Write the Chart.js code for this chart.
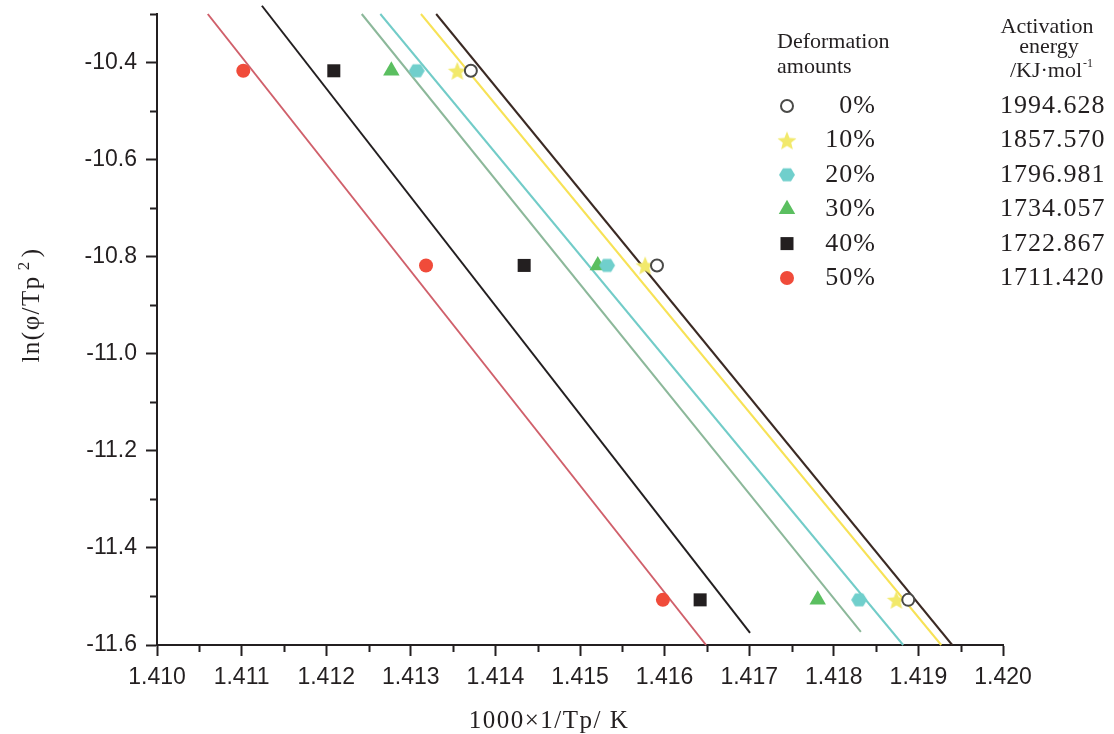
<!DOCTYPE html>
<html>
<head>
<meta charset="utf-8">
<title>Kissinger plot - activation energy</title>
<script src="https://cdn.jsdelivr.net/npm/chart.js@4.4.1/dist/chart.umd.min.js"></script>
<style>
  html, body { margin: 0; padding: 0; background: #fff; }
  #wrap { position: relative; width: 1114px; height: 734px; }
</style>
</head>
<body>
<div id="wrap"><canvas id="chart" width="1114" height="734"></canvas></div>
<script>
// ===== data =====
const xTicks = [1.410, 1.411, 1.412, 1.413, 1.414, 1.415, 1.416, 1.417, 1.418, 1.419, 1.420];
const yTicks = [-11.6, -11.4, -11.2, -11.0, -10.8, -10.6, -10.4];

const deformation = ['0%', '10%', '20%', '30%', '40%', '50%'];
const activationEnergy = ['1994.628', '1857.570', '1796.981', '1734.057', '1722.867', '1711.420'];

// ln(phi/Tp^2) of the three heating rates
const lnRate = [-10.417, -10.818, -11.507];

// 1000/Tp of each sample at those rates
const invTp0 = [1.41371, 1.41591, 1.41888];
const invTp10 = [1.41355, 1.41577, 1.41874];
const invTp20 = [1.41307, 1.41532, 1.41830];
const invTp30 = [1.41277, 1.41521, 1.41781];
const invTp40 = [1.41209, 1.41434, 1.41642];
const invTp50 = [1.41102, 1.41318, 1.41598];

// fitted lines, start and end points
const fit0X = [1.41330, 1.41940],  fit0Y = [-10.300, -11.600];
const fit10X = [1.41312, 1.41927], fit10Y = [-10.300, -11.600];
const fit20X = [1.41264, 1.41882], fit20Y = [-10.300, -11.600];
const fit30X = [1.41242, 1.41832], fit30Y = [-10.300, -11.573];
const fit40X = [1.41124, 1.41701], fit40Y = [-10.283, -11.575];
const fit50X = [1.41060, 1.41649], fit50Y = [-10.300, -11.600];

// ===== helpers =====
const ink = '#231f20';
const serif = "'Liberation Serif', 'Times New Roman', serif";
const sans = "'Liberation Sans', Arial, sans-serif";

// filled five point star used as a point style
const makeStar = (color) => {
    const c = document.createElement('canvas');
    c.width = 22; c.height = 22;
    const g = c.getContext('2d');
    g.fillStyle = color;
    g.beginPath();
    for (let i = 0; i < 10; i++) {
        const r = i % 2 === 0 ? 10 : 4.4;
        const a = -Math.PI / 2 + i * Math.PI / 5;
        g.lineTo(11 + r * Math.cos(a), 12 + r * Math.sin(a));
    }
    g.closePath();
    g.fill();
    return c;
};

// filled hexagon used as a point style
const makeHex = (color) => {
    const c = document.createElement('canvas');
    c.width = 18; c.height = 18;
    const g = c.getContext('2d');
    g.fillStyle = color;
    g.beginPath();
    for (let i = 0; i < 6; i++) {
        const a = i * Math.PI / 3;
        g.lineTo(9 + 8 * Math.cos(a), 9 + 7.6 * Math.sin(a));
    }
    g.closePath();
    g.fill();
    return c;
};

const pts = (xs, ys) => xs.map((v, i) => ({ x: v, y: ys[i] }));

const markerStyles = [
    { pointStyle: 'circle', radius: 6, backgroundColor: '#ffffff', borderColor: '#4a4a48', borderWidth: 2 },
    { pointStyle: makeStar('#f2e96b'), radius: 10, backgroundColor: '#f2e96b', borderColor: '#f2e96b', borderWidth: 0 },
    { pointStyle: makeHex('#70cfcc'), radius: 8, backgroundColor: '#70cfcc', borderColor: '#70cfcc', borderWidth: 0 },
    { pointStyle: 'triangle', radius: 9.5, backgroundColor: '#5bbf60', borderColor: '#5bbf60', borderWidth: 0 },
    { pointStyle: 'rect', radius: 9.2, backgroundColor: ink, borderColor: ink, borderWidth: 0 },
    { pointStyle: 'circle', radius: 7, backgroundColor: '#f04b3a', borderColor: '#f04b3a', borderWidth: 0 }
];
const lineColors = ['#3b2a24', '#f7e256', '#72ccc8', '#8cb89a', ink, '#d0606b'];

const invTp = [invTp0, invTp10, invTp20, invTp30, invTp40, invTp50];
const fits = [[fit0X, fit0Y], [fit10X, fit10Y], [fit20X, fit20Y], [fit30X, fit30Y], [fit40X, fit40Y], [fit50X, fit50Y]];

const datasets = [];
invTp.forEach((xs, i) => {
    const m = markerStyles[i];
    datasets.push({
        label: deformation[i],
        data: pts(xs, lnRate),
        showLine: false,
        order: 0,
        clip: false,
        pointStyle: m.pointStyle,
        pointRadius: m.radius,
        pointBackgroundColor: m.backgroundColor,
        pointBorderColor: m.borderColor,
        pointBorderWidth: m.borderWidth
    });
});
fits.forEach(([fx, fy], i) => {
    datasets.push({
        label: deformation[i] + ' fit',
        data: pts(fx, fy),
        showLine: true,
        order: 1,
        clip: false,
        borderColor: lineColors[i],
        borderWidth: 2,
        pointRadius: 0
    });
});

const xMinor = xTicks.slice(0, -1).map((v, i) => (v + xTicks[i + 1]) / 2);
const yMinor = yTicks.slice(0, -1).map((v, i) => (v + yTicks[i + 1]) / 2).concat([-10.3]);

// minor ticks, axis titles and the two-column legend
const overlay = {
    id: 'overlay',
    afterDraw(chart) {
        const { ctx, scales: { x, y } } = chart;
        ctx.save();
        ctx.strokeStyle = ink;
        ctx.lineWidth = 2;
        ctx.beginPath();
        xMinor.forEach(v => {
            const px = Math.round(x.getPixelForValue(v)) + 0.5;
            ctx.moveTo(px, x.top);
            ctx.lineTo(px, x.top + 7);
        });
        yMinor.forEach(v => {
            const py = Math.round(y.getPixelForValue(v)) + 0.5;
            ctx.moveTo(y.right - 7, py);
            ctx.lineTo(y.right, py);
        });
        ctx.stroke();

        ctx.fillStyle = ink;
        ctx.textBaseline = 'alphabetic';

        // x title
        ctx.font = `25px ${serif}`;
        ctx.letterSpacing = '1.5px';
        ctx.textAlign = 'center';
        ctx.fillText('1000×1/Tp/ K', 549, 728);

        // y title, rotated
        ctx.save();
        ctx.translate(39, 305);
        ctx.rotate(-Math.PI / 2);
        ctx.textAlign = 'left';
        ctx.font = `25px ${serif}`;
        const a = 'ln(φ/Tp', b = ')';
        const wa = ctx.measureText(a).width, wb = ctx.measureText(b).width;
        ctx.font = `17px ${serif}`;
        const ws = ctx.measureText('2').width;
        const total = wa + 5 + ws + 3 + wb;
        let cx = -total / 2;
        ctx.font = `25px ${serif}`;
        ctx.fillText(a, cx, 0);
        cx += wa + 5;
        ctx.font = `17px ${serif}`;
        ctx.fillText('2', cx, -10);
        cx += ws + 3;
        ctx.font = `25px ${serif}`;
        ctx.fillText(b, cx, 0);
        ctx.restore();

        // legend headers
        ctx.letterSpacing = '0px';
        ctx.font = `22px ${serif}`;
        ctx.textAlign = 'left';
        ctx.fillText('Deformation', 777, 48);
        ctx.fillText('amounts', 777, 73);
        ctx.textAlign = 'center';
        ctx.fillText('Activation', 1047, 33);
        ctx.fillText('energy', 1049, 53);
        ctx.textAlign = 'left';
        const u = '/KJ·mol';
        const wu = ctx.measureText(u).width;
        ctx.fillText(u, 1046 - wu / 2, 77);
        ctx.font = `12px ${serif}`;
        ctx.fillText('-1', 1046 + wu / 2 + 1, 67);

        // legend rows
        deformation.forEach((lab, i) => {
            const base = 113 + i * 34.4;
            const m = markerStyles[i];
            ctx.fillStyle = m.backgroundColor;
            ctx.strokeStyle = m.borderColor;
            ctx.lineWidth = m.borderWidth;
            Chart.helpers.drawPoint(ctx, {
                pointStyle: m.pointStyle,
                radius: m.radius,
                rotation: 0,
                borderWidth: m.borderWidth
            }, 787, base - 7);

            ctx.fillStyle = ink;
            ctx.font = `26px ${serif}`;
            ctx.letterSpacing = '1px';
            ctx.textAlign = 'right';
            ctx.fillText(lab, 876, base);
            ctx.textAlign = 'left';
            ctx.fillText(activationEnergy[i], 1000, base);
        });
        ctx.restore();
    }
};

new Chart(document.getElementById('chart'), {
    type: 'scatter',
    data: { datasets },
    options: {
        responsive: false,
        animation: false,
        devicePixelRatio: 1,
        layout: { padding: { top: 14, right: 111, left: 0, bottom: 0 } },
        plugins: { legend: { display: false }, tooltip: { enabled: false } },
        scales: {
            x: {
                type: 'linear',
                min: 1.410,
                max: 1.420,
                afterBuildTicks: (s) => { s.ticks = xTicks.map(v => ({ value: v })); },
                afterFit: (s) => { s.height = 89; s.paddingLeft = 0; s.paddingRight = 0; },
                ticks: {
                    callback: (v) => Number(v).toFixed(3),
                    font: { family: sans, size: 23 },
                    color: ink,
                    padding: 8,
                    maxRotation: 0,
                    autoSkip: false
                },
                grid: { drawOnChartArea: false, tickLength: 11, tickWidth: 2, tickColor: ink },
                border: { color: ink, width: 2 }
            },
            y: {
                type: 'linear',
                min: -11.6,
                max: -10.3,
                afterBuildTicks: (s) => { s.ticks = yTicks.map(v => ({ value: v })); },
                afterFit: (s) => { s.width = 157; s.paddingTop = 0; s.paddingBottom = 0; },
                ticks: {
                    callback: (v) => Number(v).toFixed(1),
                    font: { family: sans, size: 23 },
                    color: ink,
                    padding: 9,
                    autoSkip: false
                },
                grid: { drawOnChartArea: false, tickLength: 11, tickWidth: 2, tickColor: ink },
                border: { color: ink, width: 2 }
            }
        }
    },
    plugins: [overlay]
});
</script>
</body>
</html>
